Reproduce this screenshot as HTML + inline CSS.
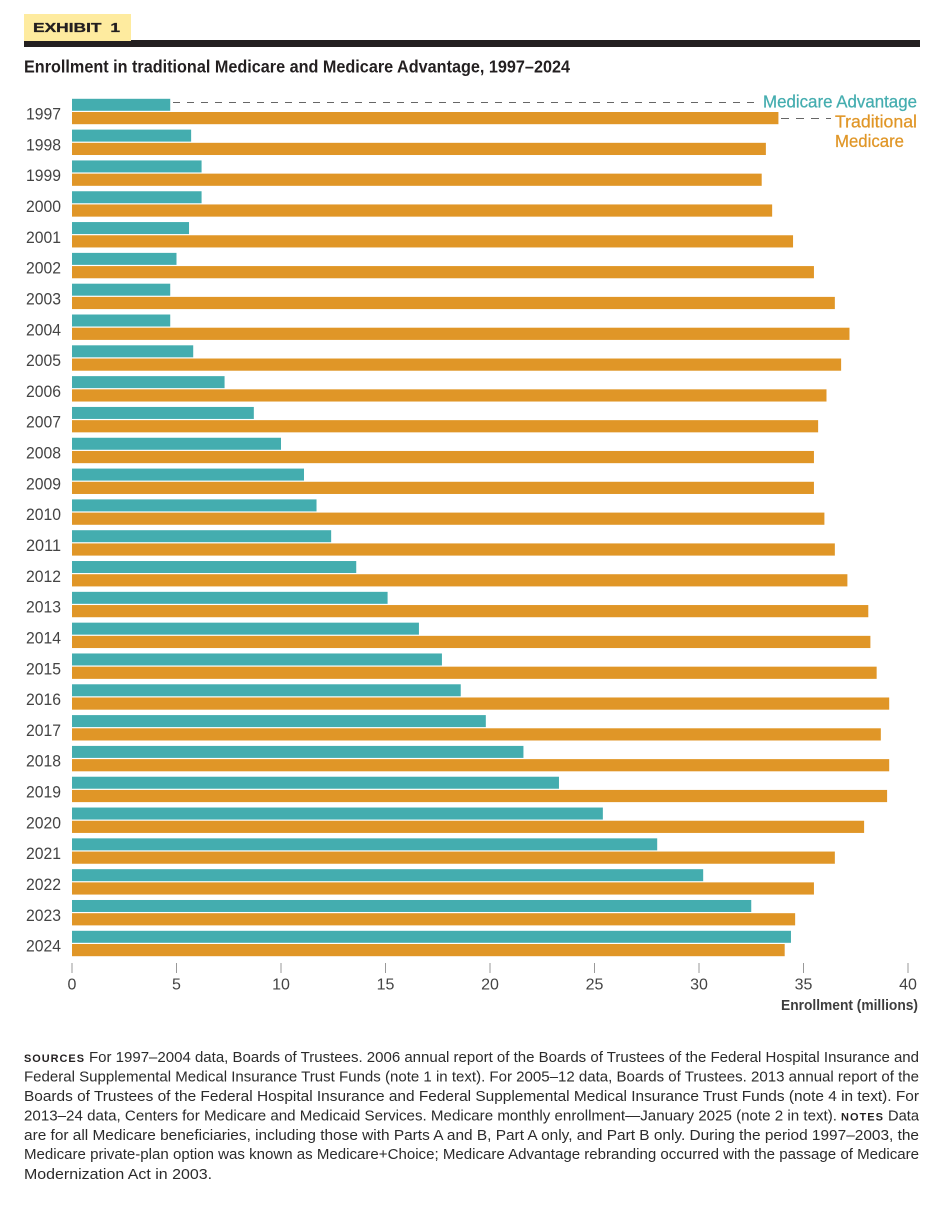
<!DOCTYPE html>
<html lang="en">
<head>
<meta charset="utf-8">
<title>Exhibit 1</title>
<style>
html,body{margin:0;padding:0;background:#fff;}
svg{display:block;font-family:"Liberation Sans",sans-serif;}
.foot{font-size:15px;fill:#2b2b2b;}
.tick{font-size:16px;fill:#444;}
.year{font-size:17px;fill:#444;}
.small-caps{font-size:11px;font-weight:700;letter-spacing:1px;fill:#231f20;}
.legend{font-size:17.5px;stroke-width:0.25;}
</style>
</head>
<body>
<svg id="chart" xmlns="http://www.w3.org/2000/svg" width="948" height="1206" viewBox="0 0 948 1206">
  <rect x="24" y="40" width="896" height="7" fill="#231f20"/>
  <rect x="24" y="14" width="107" height="27" fill="#feeb9f"/>
  <text x="33" y="32" font-size="13" font-weight="700" fill="#231f20" stroke="#231f20" stroke-width="0.3" word-spacing="3" textLength="87" lengthAdjust="spacingAndGlyphs">EXHIBIT 1</text>
  <text x="24" y="72.5" font-size="17.5" font-weight="700" fill="#231f20" textLength="546" lengthAdjust="spacingAndGlyphs">Enrollment in traditional Medicare and Medicare Advantage, 1997–2024</text>

  <g id="bars"></g>
  <g id="years"></g>
  <g id="xaxis"></g>

  <line x1="173" y1="102.5" x2="754" y2="102.5" stroke="#666" stroke-width="1" stroke-dasharray="7 7"/>
  <line x1="781" y1="118.5" x2="831" y2="118.5" stroke="#666" stroke-width="1" stroke-dasharray="8 7"/>
  <text class="legend" x="763" y="107.3" fill="#44adaf" stroke="#44adaf" textLength="154" lengthAdjust="spacingAndGlyphs">Medicare Advantage</text>
  <text class="legend" x="835" y="127.3" fill="#e09627" stroke="#e09627" textLength="82" lengthAdjust="spacingAndGlyphs">Traditional</text>
  <text class="legend" x="835" y="146.8" fill="#e09627" stroke="#e09627" textLength="69" lengthAdjust="spacingAndGlyphs">Medicare</text>

  <text x="918" y="1010" font-size="15" font-weight="700" fill="#3d3d3d" text-anchor="end" textLength="137" lengthAdjust="spacingAndGlyphs">Enrollment (millions)</text>

  <g>
    <text class="small-caps" x="24" y="1062" textLength="61" lengthAdjust="spacingAndGlyphs">SOURCES</text>
    <text class="foot" x="89" y="1062" textLength="830" lengthAdjust="spacingAndGlyphs">For 1997–2004 data, Boards of Trustees. 2006 annual report of the Boards of Trustees of the Federal Hospital Insurance and</text>
    <text class="foot" x="24" y="1081.5" textLength="895" lengthAdjust="spacingAndGlyphs">Federal Supplemental Medical Insurance Trust Funds (note 1 in text). For 2005–12 data, Boards of Trustees. 2013 annual report of the</text>
    <text class="foot" x="24" y="1101" textLength="895" lengthAdjust="spacingAndGlyphs">Boards of Trustees of the Federal Hospital Insurance and Federal Supplemental Medical Insurance Trust Funds (note 4 in text). For</text>
    <text class="foot" x="24" y="1120.5" textLength="813" lengthAdjust="spacingAndGlyphs">2013–24 data, Centers for Medicare and Medicaid Services. Medicare monthly enrollment—January 2025 (note 2 in text).</text>
    <text class="small-caps" x="841" y="1120.5" textLength="43" lengthAdjust="spacingAndGlyphs">NOTES</text>
    <text class="foot" x="888" y="1120.5" textLength="31" lengthAdjust="spacingAndGlyphs">Data</text>
    <text class="foot" x="24" y="1140" textLength="895" lengthAdjust="spacingAndGlyphs">are for all Medicare beneficiaries, including those with Parts A and B, Part A only, and Part B only. During the period 1997–2003, the</text>
    <text class="foot" x="24" y="1159" textLength="895" lengthAdjust="spacingAndGlyphs">Medicare private-plan option was known as Medicare+Choice; Medicare Advantage rebranding occurred with the passage of Medicare</text>
    <text class="foot" x="24" y="1179" textLength="188" lengthAdjust="spacingAndGlyphs">Modernization Act in 2003.</text>
  </g>
</svg>
<script>
var years = [1997,1998,1999,2000,2001,2002,2003,2004,2005,2006,2007,2008,2009,2010,2011,2012,2013,2014,2015,2016,2017,2018,2019,2020,2021,2022,2023,2024];
var medicareAdvantage = [4.7,5.7,6.2,6.2,5.6,5.0,4.7,4.7,5.8,7.3,8.7,10.0,11.1,11.7,12.4,13.6,15.1,16.6,17.7,18.6,19.8,21.6,23.3,25.4,28.0,30.2,32.5,34.4];
var traditionalMedicare = [33.8,33.2,33.0,33.5,34.5,35.5,36.5,37.2,36.8,36.1,35.7,35.5,35.5,36.0,36.5,37.1,38.1,38.2,38.5,39.1,38.7,39.1,39.0,37.9,36.5,35.5,34.6,34.1];
var xTicks = [0,5,10,15,20,25,30,35,40];

var NS = 'http://www.w3.org/2000/svg';
function xScale(v){ return 72 + v * (908 - 72) / 40; }
function yBand(i){ return 98.8 + i * (930.8 - 98.8) / (years.length - 1); }
function make(tag, attrs, parent){
  var el = document.createElementNS(NS, tag);
  for (var k in attrs) el.setAttribute(k, attrs[k]);
  parent.appendChild(el);
  return el;
}
var barsG = document.getElementById('bars');
var yearsG = document.getElementById('years');
var axisG = document.getElementById('xaxis');

years.forEach(function(year, i){
  var y = yBand(i);
  var ma = make('rect', {x: xScale(0), y: y, width: xScale(medicareAdvantage[i]) - xScale(0), height: 12, fill: '#44adaf'}, barsG);
  
  
  var tm = make('rect', {x: xScale(0), y: y + 13.2, width: xScale(traditionalMedicare[i]) - xScale(0), height: 12.2, fill: '#e09627'}, barsG);
  
  
  var label = make('text', {x: 26, y: y + 20.8, 'class': 'year', textLength: 35, lengthAdjust: 'spacingAndGlyphs'}, yearsG);
  label.textContent = year;
  
  
});

xTicks.forEach(function(t){
  var x = xScale(t);
  var line = make('line', {x1: x, x2: x, y1: 963, y2: 973, stroke: '#999', 'stroke-width': 1}, axisG);
  
  
  var label = make('text', {x: x, y: 989.3, 'class': 'tick', 'text-anchor': 'middle'}, axisG);
  label.textContent = t;
  
  
});
</script>
</body>
</html>
